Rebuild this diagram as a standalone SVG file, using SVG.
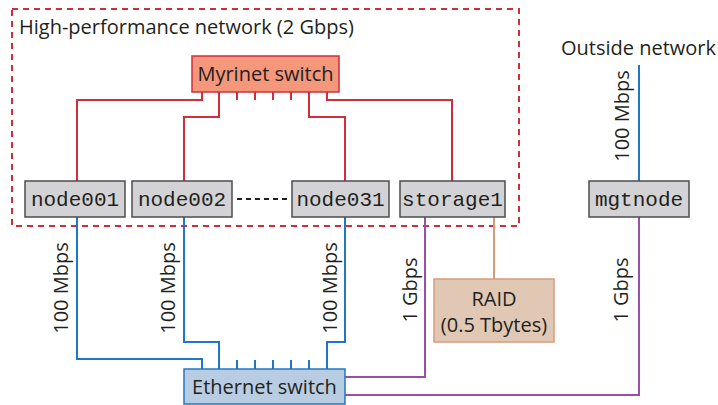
<svg xmlns="http://www.w3.org/2000/svg" width="718" height="405" viewBox="0 0 718 405">
<style>
.lbl{font-family:"Open Sans","Liberation Sans",sans-serif;font-size:20px;fill:#231f20}
.mono{font-family:"Liberation Mono","Courier New",monospace;font-size:21px;fill:#231f20}
.node{fill:#d3d3d5;stroke:#4d4d4f;stroke-width:1.5}
.red{fill:none;stroke:#d12d3a;stroke-width:2}
.blue{fill:none;stroke:#1f78c4;stroke-width:2}
.purple{fill:none;stroke:#9a4ea5;stroke-width:2}
.tan{fill:none;stroke:#d89c78;stroke-width:2}
</style>
<rect width="718" height="405" fill="#fff"/>
<g id="hpn">
<rect x="12" y="9" width="507" height="217" fill="none" stroke="#d12d3a" stroke-width="2" stroke-dasharray="6,5"/>
<text class="lbl" x="19" y="34">High-performance network (2 Gbps)</text>
</g>
<g id="connectors">
<path class="red" d="M202,92V100H77V181M219,92V117H184V181M309,92V117H345V181M327,92V100H452V181M237,92V100M255,92V100M273,92V100M291,92V100"/>
<path class="blue" d="M77,217V359H202V369M184,217V342H219V369M345,217V342H327V369M237,360V369M255,360V369M273,360V369M291,360V369M309,360V369M639,65V181"/>
<path class="purple" d="M425,217V377H345M639,217V395H345"/>
<path class="tan" d="M494,217V279"/>
<path d="M237,199H287" stroke="#231f20" stroke-width="2" stroke-dasharray="5,4" fill="none"/>
<text class="lbl" transform="translate(68,288) rotate(-90)" text-anchor="middle">100 Mbps</text>
<text class="lbl" transform="translate(175,288) rotate(-90)" text-anchor="middle">100 Mbps</text>
<text class="lbl" transform="translate(337,288) rotate(-90)" text-anchor="middle">100 Mbps</text>
<text class="lbl" transform="translate(417,290) rotate(-90)" text-anchor="middle">1 Gbps</text>
<text class="lbl" transform="translate(628,290) rotate(-90)" text-anchor="middle">1 Gbps</text>
<text class="lbl" transform="translate(629,116) rotate(-90)" text-anchor="middle">100 Mbps</text>
</g>
<g id="myrinet">
<rect x="192" y="56" width="147" height="36" fill="#f4977b" stroke="#d12d3a" stroke-width="1.5"/>
<text class="lbl" x="265.5" y="81" text-anchor="middle">Myrinet switch</text>
</g>
<g id="node001"><rect class="node" x="25" y="181" width="100" height="36"/><text class="mono" x="75" y="206" text-anchor="middle">node001</text></g>
<g id="node002"><rect class="node" x="132" y="181" width="100" height="36"/><text class="mono" x="182" y="206" text-anchor="middle">node002</text></g>
<g id="node031"><rect class="node" x="292" y="181" width="97" height="36"/><text class="mono" x="340.5" y="206" text-anchor="middle">node031</text></g>
<g id="storage1"><rect class="node" x="400" y="181" width="105" height="36"/><text class="mono" x="452.5" y="206" text-anchor="middle">storage1</text></g>
<g id="mgtnode"><rect class="node" x="589" y="181" width="100" height="36"/><text class="mono" x="639" y="206" text-anchor="middle">mgtnode</text></g>
<g id="outside"><text class="lbl" x="561" y="55">Outside network</text></g>
<g id="raid">
<rect x="434" y="279" width="120" height="63" fill="#e0c8b5" stroke="#d89c78" stroke-width="1.5"/>
<text class="lbl" x="494" y="306" text-anchor="middle">RAID</text>
<text class="lbl" x="494" y="332" text-anchor="middle">(0.5 Tbytes)</text>
</g>
<g id="ethernet">
<rect x="184" y="369" width="161" height="35" fill="#b9cde2" stroke="#1f78c4" stroke-width="1.5"/>
<text class="lbl" x="264.5" y="394" text-anchor="middle">Ethernet switch</text>
</g>
</svg>
